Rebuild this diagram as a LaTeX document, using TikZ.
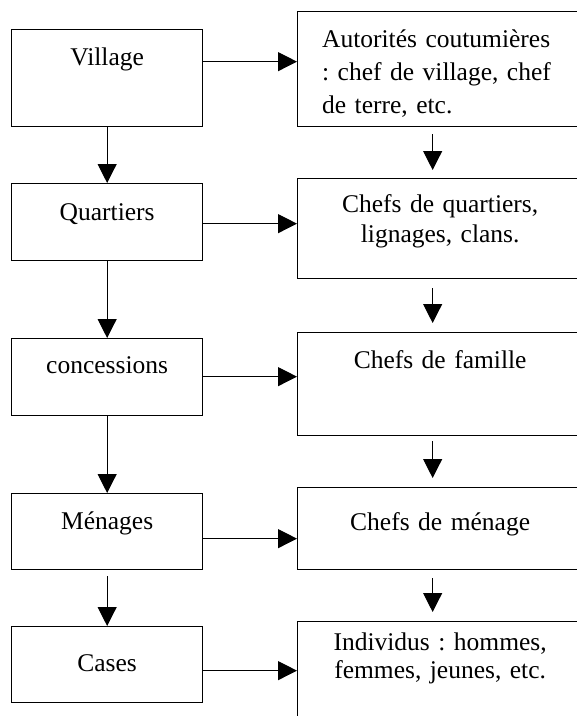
\documentclass[tikz,border=0pt]{standalone}
\usepackage{fontspec}
\setmainfont{Liberation Serif}
\usetikzlibrary{arrows.meta}

\begin{document}
\begin{tikzpicture}[x=1pt,y=-1pt,
    boite/.style={draw, line width=1.3pt, inner sep=0pt, anchor=north west, align=center,
                  font=\fontsize{25.5}{31}\selectfont\frenchspacing},
    gauche/.style={boite, minimum width=191pt},
    droite/.style={boite, minimum width=285pt, text width=236pt},
    fleche/.style={-{Triangle[length=19pt,width=19pt]}, line width=1pt}]

\useasboundingbox (0,0) rectangle (577,716);
\clip (0,0) rectangle (577,716);

\node [gauche, text height=36pt, text depth=61pt] (niv_village)     at (11,29)  {Village};
\node [gauche, text height=37pt, text depth=40pt] (niv_quartiers)   at (11,183) {Quartiers};
\node [gauche, text height=35pt, text depth=42pt] (niv_concessions) at (11,338) {concessions};
\node [gauche, text height=36pt, text depth=40pt] (niv_menages)     at (11,493) {Ménages};
\node [gauche, text height=45pt, text depth=31pt] (niv_cases)       at (11,626) {Cases};

\node [droite, text height=36pt, text depth=79pt, align=left,
       font=\fontsize{25.5}{33}\selectfont\frenchspacing] (chef_village)   at (297,11)
      {Autorités coutumières\\: chef de village, chef\\de terre, etc.};
\node [droite, text height=34pt, text depth=66pt,
       font=\fontsize{25.5}{30}\selectfont\frenchspacing] (chef_quartiers) at (297,178)
      {Chefs de quartiers,\\lignages, clans.};
\node [droite, text height=36pt, text depth=67pt] (chef_famille)   at (297,332) {Chefs de famille};
\node [droite, text height=43pt, text depth=39pt] (chef_menage)    at (297,487) {Chefs de ménage};
\node [droite, text height=29pt, text depth=91pt,
       font=\fontsize{25.5}{28}\selectfont\frenchspacing] (chef_individus) at (297,621)
      {Individus : hommes,\\femmes, jeunes, etc.};

\draw [fleche] (niv_village)     -- (niv_quartiers);
\draw [fleche] (niv_quartiers)   -- (niv_concessions);
\draw [fleche] (niv_concessions) -- (niv_menages);
\draw [fleche, shorten <=6pt] (niv_menages) -- (niv_cases);

\draw [fleche] ([yshift=16.5pt]niv_village.east)    -- ([yshift=16.5pt]niv_village.east -| chef_village.west);
\draw [fleche] ([yshift=-1.5pt]niv_quartiers.east)  -- ([yshift=-1.5pt]niv_quartiers.east -| chef_quartiers.west);
\draw [fleche] ([yshift=0.5pt]niv_concessions.east) -- ([yshift=0.5pt]niv_concessions.east -| chef_famille.west);
\draw [fleche] ([yshift=-7pt]niv_menages.east)      -- ([yshift=-7pt]niv_menages.east -| chef_menage.west);
\draw [fleche] ([yshift=-6pt]niv_cases.east)        -- ([yshift=-6pt]niv_cases.east -| chef_individus.west);

\draw [fleche, shorten <=7pt, shorten >=8pt] ([xshift=-7.5pt]chef_village.south)   -- ([xshift=-7.5pt]chef_quartiers.north);
\draw [fleche, shorten <=9pt, shorten >=9pt] ([xshift=-7.5pt]chef_quartiers.south) -- ([xshift=-7.5pt]chef_famille.north);
\draw [fleche, shorten <=5pt, shorten >=9pt] ([xshift=-7.5pt]chef_famille.south)   -- ([xshift=-7.5pt]chef_menage.north);
\draw [fleche, shorten <=8pt, shorten >=9pt] ([xshift=-7.5pt]chef_menage.south)    -- ([xshift=-7.5pt]chef_individus.north);

\end{tikzpicture}
\end{document}
